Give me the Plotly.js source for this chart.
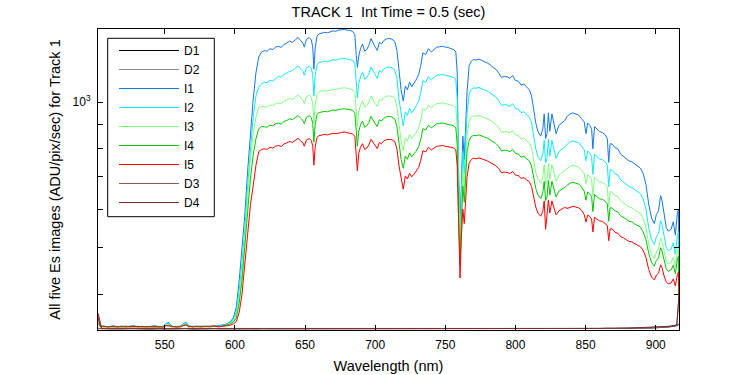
<!DOCTYPE html>
<html>
<head>
<meta charset="utf-8">
<script src="https://cdn.plot.ly/plotly-3.0.1.min.js"></script>
<style>html,body{margin:0;padding:0;background:#fff;}#chart{width:750px;height:375px;}</style>
</head>
<body>
<div id="chart"></div>
<script>
// Wavelength grid (nm) for the illuminated series I1..I5
var wl = [
502.5, 504, 507, 510, 513, 516, 519, 522, 525, 528,
531, 534, 537, 540, 543, 546, 549, 551, 553, 555,
558, 561, 563, 565, 567, 570, 573, 576, 579, 582,
585, 588, 591, 593, 595, 597, 599, 601, 603, 605,
607, 609, 611, 613, 615, 617, 619, 621, 623, 625,
627, 629, 631, 633, 635, 637, 639, 641, 643, 645,
647, 648.5, 649.5, 651, 653, 654.5, 655.5, 656.3, 657.2, 658.5,
660, 662, 664, 666, 668, 670, 672, 674, 676, 678,
680, 682, 684, 685.5, 686.5, 687.3, 688.2, 689.5, 691, 692.5,
694, 695.5, 697, 698.5, 700, 701.5, 703, 704.5, 706, 708,
710, 712, 714, 715.5, 717, 718.5, 720, 721.5, 723, 724.5,
726, 727.5, 729, 731, 732.5, 734, 736, 738, 740, 742,
744, 746, 748, 750, 752, 754, 756, 757.5, 758.5, 759.5,
760.5, 761.5, 762.5, 763.5, 764.5, 765.5, 767, 768.5, 770, 772,
774, 776, 778, 780, 782, 784, 786, 788, 790, 792,
794, 796, 798, 800, 802, 804, 806, 808, 810, 811.5,
813, 814.5, 816, 818, 819.5, 820.5, 821.5, 822.5, 823.5, 824.5,
826, 827.5, 829, 831, 833, 835, 837, 839, 841, 843,
845, 847, 849, 850.3, 851.5, 853, 854.3, 855.2, 856.4, 858,
860, 862, 864, 865.5, 866.5, 867.5, 869, 871, 873, 875,
877, 879, 881, 883, 885, 887, 889, 891, 893, 895,
897, 899, 900.5, 902, 903.5, 904.5, 906, 907.5, 909, 911,
912.5, 914, 915.5, 916.3, 916.6
];

var I1 = [
355, 344, 343, 342, 344, 342, 343, 342, 343, 344,
342, 343, 342, 343, 344, 342, 343, 348, 349, 343,
342, 343, 347, 350, 344, 342, 343, 342, 343, 342,
343, 344, 345, 346, 348, 351, 358, 376, 425, 488,
580, 715, 860, 1010, 1150, 1240, 1270, 1278, 1275, 1290,
1285, 1300, 1305, 1298, 1318, 1325, 1338, 1330, 1345, 1362,
1340, 1325, 1300, 1350, 1360, 1345, 1300, 1170, 1290, 1370,
1385, 1390, 1395, 1392, 1400, 1405, 1402, 1410, 1412, 1415,
1410, 1408, 1400, 1380, 1250, 1180, 1240, 1290, 1320, 1275,
1285, 1310, 1355, 1325, 1300, 1280, 1330, 1320, 1340, 1352,
1355, 1350, 1335, 1280, 1150, 1060, 1005, 1080, 1060, 1100,
1075, 1090, 1110, 1140, 1190, 1265, 1255, 1290, 1270, 1285,
1300, 1302, 1305, 1300, 1298, 1290, 1285, 1270, 1150, 700,
560, 680, 850, 760, 900, 1050, 1190, 1215, 1225, 1222,
1228, 1218, 1212, 1205, 1195, 1180, 1170, 1150, 1125, 1130,
1128, 1120, 1135, 1108, 1105, 1085, 1090, 1075, 1060, 1030,
965, 905, 870, 850, 880, 945, 840, 860, 950, 870,
945, 900, 860, 895, 905, 915, 935, 945, 950, 945,
940, 925, 910, 860, 905, 895, 880, 800, 890, 880,
868, 865, 855, 840, 750, 820, 818, 805, 800, 780,
772, 765, 755, 752, 745, 738, 730, 712, 675, 615,
575, 560, 585, 595, 640, 625, 580, 550, 540, 545,
565, 530, 590, 600, 400
];

var I2 = [
352, 343, 342, 343, 342, 343, 342, 343, 342, 343,
343, 342, 343, 342, 343, 343, 342, 347, 348, 343,
342, 342, 346, 349, 343, 343, 342, 343, 342, 343,
342, 343, 344, 345, 347, 349, 355, 368, 405, 462,
540, 665, 800, 930, 1030, 1075, 1090, 1100, 1097, 1110,
1105, 1118, 1131, 1126, 1142, 1148, 1158, 1162, 1174, 1188,
1170, 1158, 1137, 1178, 1187, 1174, 1137, 1029, 1129, 1195,
1207, 1212, 1216, 1213, 1220, 1224, 1221, 1228, 1230, 1232,
1228, 1226, 1220, 1203, 1095, 1020, 1087, 1129, 1153, 1116,
1124, 1145, 1182, 1158, 1137, 1120, 1162, 1153, 1170, 1180,
1182, 1178, 1166, 1120, 1012, 938, 892, 954, 938, 971,
950, 963, 979, 1004, 1046, 1108, 1099, 1129, 1112, 1124,
1137, 1138, 1141, 1137, 1135, 1129, 1124, 1112, 1012, 650,
520, 640, 790, 710, 840, 950, 1041, 1062, 1070, 1068,
1073, 1064, 1059, 1054, 1045, 1033, 1025, 1008, 984, 988,
986, 980, 992, 970, 967, 951, 955, 943, 930, 906,
849, 800, 772, 756, 780, 833, 748, 764, 837, 772,
833, 796, 764, 790, 798, 806, 819, 827, 831, 827,
823, 811, 796, 756, 792, 784, 772, 708, 780, 772,
762, 760, 752, 740, 668, 724, 722, 710, 706, 690,
683, 676, 668, 665, 658, 652, 646, 630, 601, 549,
519, 507, 526, 534, 568, 557, 522, 500, 492, 496,
511, 484, 530, 538, 396
];

var I3 = [
350, 342, 343, 342, 343, 342, 342, 343, 342, 342,
343, 342, 342, 343, 342, 342, 343, 345, 346, 342,
343, 342, 345, 347, 342, 342, 343, 342, 342, 343,
342, 343, 343, 344, 346, 348, 352, 362, 392, 440,
518, 640, 760, 860, 930, 975, 980, 978, 976, 986,
983, 993, 996, 991, 1005, 1010, 1019, 1013, 1023, 1035,
1020, 1010, 993, 1027, 1034, 1023, 993, 904, 986, 1040,
1051, 1054, 1057, 1055, 1061, 1064, 1062, 1068, 1069, 1071,
1068, 1066, 1061, 1047, 959, 890, 952, 986, 1006, 976,
983, 1000, 1030, 1010, 993, 979, 1013, 1006, 1020, 1028,
1030, 1027, 1017, 979, 891, 830, 792, 843, 830, 857,
840, 850, 864, 884, 918, 969, 962, 986, 972, 983,
993, 994, 996, 993, 991, 986, 983, 972, 891, 600,
490, 600, 720, 660, 770, 855, 914, 931, 937, 935,
939, 933, 929, 924, 917, 907, 900, 887, 866, 869,
868, 863, 873, 855, 853, 839, 843, 832, 822, 802,
756, 716, 692, 679, 699, 742, 673, 686, 746, 692,
742, 712, 686, 706, 713, 720, 730, 736, 740, 736,
733, 723, 711, 678, 707, 701, 691, 639, 698, 691,
683, 681, 675, 665, 607, 652, 651, 640, 637, 624,
619, 612, 606, 604, 597, 593, 588, 574, 551, 508,
483, 474, 489, 496, 523, 514, 486, 468, 462, 465,
477, 456, 493, 500, 393
];

var I4 = [
348, 343, 342, 342, 342, 343, 342, 342, 343, 342,
342, 343, 342, 342, 343, 342, 342, 344, 345, 342,
342, 343, 344, 346, 342, 343, 342, 342, 343, 342,
342, 342, 343, 344, 345, 347, 350, 357, 382, 425,
500, 600, 690, 775, 840, 880, 890, 889, 887, 896,
893, 902, 905, 900, 912, 916, 924, 919, 928, 938,
925, 916, 902, 931, 937, 928, 902, 826, 896, 943,
951, 954, 957, 955, 960, 963, 961, 966, 967, 969,
966, 965, 960, 948, 872, 810, 867, 896, 913, 887,
893, 907, 934, 916, 902, 890, 919, 913, 925, 932,
934, 931, 922, 890, 814, 761, 729, 773, 761, 785,
770, 779, 790, 808, 837, 881, 875, 896, 884, 893,
902, 903, 905, 902, 900, 896, 893, 884, 814, 565,
460, 565, 670, 620, 715, 790, 833, 848, 853, 852,
855, 849, 846, 842, 836, 827, 821, 810, 792, 795,
794, 789, 798, 782, 781, 769, 772, 763, 755, 737,
696, 662, 642, 631, 648, 685, 625, 636, 688, 642,
685, 659, 636, 654, 659, 665, 673, 679, 682, 679,
676, 668, 654, 626, 651, 645, 637, 593, 643, 637,
630, 629, 623, 615, 566, 604, 603, 595, 592, 581,
577, 572, 566, 565, 559, 555, 551, 539, 519, 486,
465, 457, 470, 475, 499, 491, 467, 451, 446, 449,
459, 441, 473, 480, 391
];

var I5 = [
360, 342, 343, 342, 343, 342, 343, 343, 342, 343,
342, 343, 343, 342, 343, 343, 342, 344, 344, 343,
342, 342, 344, 345, 343, 342, 343, 343, 342, 343,
344, 342, 343, 343, 344, 345, 347, 351, 366, 398,
465, 540, 610, 670, 740, 790, 798, 800, 798, 806,
803, 810, 813, 809, 819, 823, 829, 825, 832, 841,
830, 823, 810, 835, 840, 832, 810, 740, 806, 845,
852, 855, 857, 855, 859, 862, 860, 864, 865, 867,
864, 863, 859, 850, 786, 720, 781, 806, 820, 798,
803, 815, 837, 823, 810, 801, 825, 820, 830, 836,
837, 835, 828, 801, 737, 693, 660, 703, 693, 712,
700, 708, 717, 732, 757, 793, 788, 806, 796, 803,
810, 811, 813, 810, 809, 806, 803, 796, 737, 530,
432, 530, 600, 560, 640, 700, 748, 760, 765, 763,
766, 761, 759, 755, 750, 743, 738, 729, 714, 716,
715, 711, 718, 706, 704, 695, 697, 690, 683, 668,
634, 606, 589, 580, 594, 624, 545, 584, 627, 589,
624, 603, 584, 595, 600, 605, 602, 606, 608, 606,
604, 597, 585, 564, 583, 579, 572, 538, 577, 572,
567, 566, 561, 555, 516, 546, 546, 537, 535, 526,
523, 519, 514, 513, 508, 505, 502, 493, 477, 450,
434, 428, 438, 442, 460, 454, 436, 424, 420, 422,
430, 416, 440, 445, 389
];

// Wavelength grid (nm) for the dark series D1..D4
var wlDark = [
502.5, 505, 510, 515, 520, 525, 530, 535, 540, 545,
550, 555, 560, 565, 570, 575, 580, 585, 590, 595,
600, 605, 610, 615, 620, 625, 630, 635, 640, 645,
650, 655, 660, 665, 670, 675, 680, 685, 690, 695,
700, 705, 710, 715, 720, 725, 730, 735, 740, 745,
750, 755, 760, 765, 770, 775, 780, 785, 790, 795,
800, 805, 810, 815, 820, 825, 830, 835, 840, 845,
850, 855, 860, 865, 870, 875, 880, 885, 890, 895,
900, 905, 910, 915, 916.5
];

var D1 = [
339, 339.5, 339, 338.5, 339, 339.5, 339, 339, 338.5, 339,
339.5, 339, 339, 339.5, 338.5, 339, 339, 339.5, 339, 339,
338.5, 339, 339.5, 339, 339, 338.5, 339, 339.5, 339, 339,
339.5, 339, 338.5, 339, 339, 339.5, 339, 339, 338.5, 339.5,
339, 339, 339.5, 338.5, 339, 339, 339.5, 339, 339, 338.5,
339, 339.5, 339, 339, 339.5, 338.5, 339, 339, 339.5, 339,
339, 338.5, 339.5, 339, 339, 339.5, 339, 338.5, 339, 339.5,
339, 339, 339.5, 339, 339.5, 339, 339.5, 340, 339.5, 340,
340.5, 341, 342, 344, 346
];
var D2 = [
339.5, 339, 339.5, 339, 338.5, 339, 339.5, 339, 339, 339.5,
339, 338.5, 339.5, 339, 339, 339.5, 338.5, 339, 339.5, 339,
339, 339.5, 339, 338.5, 339.5, 339, 339, 339, 339.5, 338.5,
339, 339.5, 339, 339, 338.5, 339, 339.5, 339, 339.5, 339,
338.5, 339.5, 339, 339, 339.5, 339, 338.5, 339.5, 339, 339,
339.5, 339, 338.5, 339.5, 339, 339, 339.5, 339, 338.5, 339.5,
339, 339.5, 339, 339, 338.5, 339, 339.5, 339, 339.5, 339,
339.5, 338.5, 339, 339.5, 339, 339.5, 340, 339.5, 340, 340,
341, 341.5, 342.5, 345, 347
];
var D3 = [
340, 339, 339.5, 339.5, 339, 338.5, 339.5, 339, 339.5, 339,
339, 339.5, 338.5, 339, 339.5, 339, 339.5, 339, 338.5, 339.5,
339, 339, 339.5, 339, 338.5, 339.5, 339, 339.5, 339, 339.5,
338.5, 339, 339.5, 339.5, 339, 339, 338.5, 339.5, 339, 339.5,
339.5, 339, 338.5, 339.5, 339, 339.5, 339, 339, 339.5, 339,
338.5, 339.5, 339.5, 339, 339, 339.5, 338.5, 339.5, 339, 339,
339.5, 339, 339, 339.5, 339.5, 338.5, 339, 339.5, 339, 339.5,
339, 339.5, 339, 339.5, 339.5, 340, 339.5, 340, 340, 340.5,
341, 341.5, 343, 345, 390
];
var D4 = [
365, 339.5, 339, 339, 339.5, 339, 339, 339.5, 339, 338.5,
339, 339.5, 339, 339, 339.5, 339.5, 339, 338.5, 339.5, 339,
339.5, 339, 339, 339.5, 339.5, 339, 339.5, 339, 338.5, 339.5,
339, 339.5, 339, 339.5, 339.5, 339, 339, 339.5, 339.5, 339,
339, 339.5, 339.5, 339, 339, 339.5, 339.5, 339, 339, 339.5,
339.5, 339, 339, 339.5, 339.5, 339, 339.5, 339.5, 339, 339.5,
339.5, 339, 339.5, 339.5, 339, 339.5, 339.5, 339, 339.5, 339.5,
339.5, 339, 339.5, 340, 339.5, 340, 340, 340.5, 340, 340.5,
341, 342, 343, 345, 395
];

var xTickVals = [550, 600, 650, 700, 750, 800, 850, 900];
var xTickText = ['550', '600', '650', '700', '750', '800', '850', '900'];
var yTickVals = [400, 500, 600, 700, 800, 900, 1000];
var yTickText = ['', '', '', '', '', '', '10<sup>3</sup>'];

var seriesOrder = [
  {name: 'D1', x: wlDark, y: D1, color: '#000000'},
  {name: 'D2', x: wlDark, y: D2, color: '#8c8c8c'},
  {name: 'I1', x: wl, y: I1, color: '#1478e6'},
  {name: 'I2', x: wl, y: I2, color: '#10eaf2'},
  {name: 'I3', x: wl, y: I3, color: '#80ff80'},
  {name: 'I4', x: wl, y: I4, color: '#00c800'},
  {name: 'I5', x: wl, y: I5, color: '#ff0000'},
  {name: 'D3', x: wlDark, y: D3, color: '#8c5a5a'},
  {name: 'D4', x: wlDark, y: D4, color: '#7a2d2d'}
];

var traces = seriesOrder.map(function (s) {
  return {
    type: 'scatter', mode: 'lines', name: s.name,
    x: s.x, y: s.y,
    line: {color: s.color, width: 1}
  };
});

var font = 'Liberation Sans, Arial, Helvetica, sans-serif';
var layout = {
  width: 750, height: 375,
  margin: {l: 98, r: 71, t: 29, b: 45, pad: 0},
  paper_bgcolor: '#ffffff', plot_bgcolor: '#ffffff',
  font: {family: font, size: 12, color: '#000'},
  title: {
    text: 'TRACK 1\u00a0 Int Time = 0.5 (sec)',
    xref: 'paper', x: 0.5, xanchor: 'center',
    yref: 'container', y: 1 - 12 / 375, yanchor: 'middle',
    font: {family: font, size: 14.5, color: '#000'}
  },
  xaxis: {
    range: [502.4, 916.6], tickmode: 'array', tickvals: xTickVals, ticktext: xTickText,
    ticks: 'inside', ticklen: 5, tickwidth: 1, tickcolor: '#000',
    showline: true, linecolor: '#000', linewidth: 1, mirror: 'ticks',
    showgrid: false, zeroline: false, ticklabelstandoff: 4,
    tickfont: {family: font, size: 12, color: '#000'},
    title: {text: 'Wavelength (nm)', font: {family: font, size: 14.5, color: '#000'}, standoff: 9}
  },
  yaxis: {
    type: 'log', range: [2.5276, 3.1515], tickmode: 'array', tickvals: yTickVals, ticktext: yTickText,
    ticks: 'inside', ticklen: 5, tickwidth: 1, tickcolor: '#000',
    showline: true, linecolor: '#000', linewidth: 1, mirror: 'ticks',
    showgrid: false, zeroline: false, ticklabelstandoff: 4,
    tickfont: {family: font, size: 12, color: '#000'},
    title: {text: 'All five Es images (ADU/pix/sec) for Track 1', font: {family: font, size: 14.5, color: '#000'}, standoff: 8}
  },
  shapes: [{
    type: 'rect', xref: 'paper', yref: 'paper', layer: 'above',
    x0: (107.7 - 98) / 581, x1: (214.3 - 98) / 581,
    y0: 1 - (216.7 - 29) / 301, y1: 1 - (38.3 - 29) / 301,
    line: {color: '#000', width: 1}, fillcolor: 'rgba(255,255,255,0)'
  }],
  showlegend: true,
  legend: {
    x: (114 - 98) / 581, y: 1 - (36 - 29) / 301, xanchor: 'left', yanchor: 'top',
    bgcolor: 'rgba(255,255,255,0)', borderwidth: 0,
    font: {family: font, size: 12, color: '#000'},
    itemwidth: 60, tracegroupgap: 0, traceorder: 'normal'
  }
};

Plotly.newPlot('chart', traces, layout, {staticPlot: true, displayModeBar: false});
</script>
</body>
</html>
